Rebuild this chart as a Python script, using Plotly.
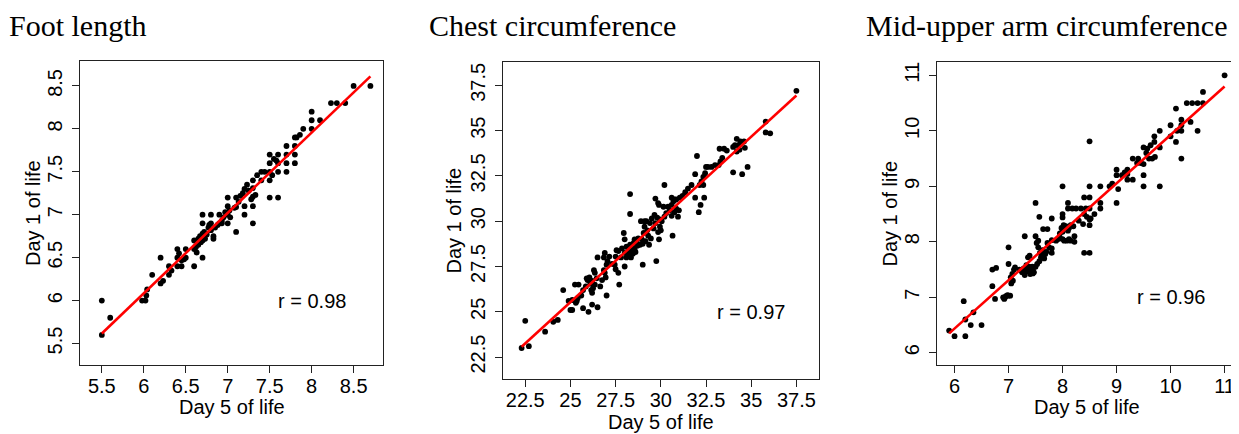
import numpy as np
import plotly.graph_objects as go

W, H = 1239, 434
OX, OY = 8, 8          # the page body offsets the figure by 8 px
FW, FH = W - OX, H - OY

# ---------------- data ----------------
panel_titles = ["Foot length", "Chest circumference", "Mid-upper arm circumference"]
x_title = "Day 5 of life"
y_title = "Day 1 of life"
r_labels = ["r = 0.98", "r = 0.97", "r = 0.96"]
r_label_pos = [(8.0, 6.0), (35.0, 25.0), (10.0, 7.0)]

foot_ticks = [5.5, 6, 6.5, 7, 7.5, 8, 8.5]
foot_ticklabels = ["5.5", "6", "6.5", "7", "7.5", "8", "8.5"]
chest_ticks = [22.5, 25, 27.5, 30, 32.5, 35, 37.5]
chest_ticklabels = ["22.5", "25", "27.5", "30", "32.5", "35", "37.5"]
muac_ticks = [6, 7, 8, 9, 10, 11]
muac_ticklabels = ["6", "7", "8", "9", "10", "11"]

foot_day5 = [
    5.5, 5.6, 5.5, 5.98, 6.02, 6.04, 6.03, 6.1, 6.2, 6.2,
    6.23, 6.3, 6.3, 6.33, 6.4, 6.42, 6.45, 6.4, 6.45, 6.4,
    6.5, 6.5, 6.48, 6.6, 6.6, 6.62, 6.65, 6.63, 6.6, 6.65,
    6.7, 6.7, 6.7, 6.67, 6.7, 6.72, 6.75, 6.73, 6.68, 6.7,
    6.8, 6.8, 6.77, 6.8, 6.83, 6.83, 6.78, 6.85, 6.9, 6.9,
    6.88, 6.93, 6.95, 6.97, 6.93, 7.0, 7.0, 7.0, 7.0, 7.02,
    7.03, 7.1, 7.1, 7.1, 7.13, 7.15, 7.08, 7.2, 7.2, 7.2,
    7.23, 7.18, 7.25, 7.3, 7.3, 7.3, 7.3, 7.3, 7.33, 7.28,
    7.35, 7.4, 7.4, 7.44, 7.5, 7.5, 7.5, 7.5, 7.5, 7.53,
    7.55, 7.6, 7.6, 7.6, 7.6, 7.58, 7.7, 7.7, 7.7, 7.7,
    7.8, 7.8, 7.8, 7.8, 7.82, 7.86, 7.9, 8.0, 8.0, 8.0,
    8.1, 8.23, 8.3, 8.4, 8.5, 8.7]
foot_day1 = [
    6.0, 5.8, 5.6, 6.0, 6.0, 6.13, 6.06, 6.3, 6.5, 6.2,
    6.23, 6.4, 6.3, 6.35, 6.6, 6.55, 6.47, 6.4, 6.4, 6.5,
    6.6, 6.5, 6.48, 6.4, 6.6, 6.62, 6.65, 6.56, 6.7, 6.72,
    6.5, 7.0, 6.9, 6.75, 6.78, 6.8, 6.77, 6.72, 6.68, 6.7,
    7.0, 6.9, 6.85, 6.82, 6.75, 6.72, 6.88, 6.85, 7.0, 6.9,
    6.88, 6.93, 6.97, 7.03, 6.9, 7.2, 7.1, 7.0, 6.9, 7.05,
    6.97, 7.2, 7.09, 6.8, 7.15, 7.22, 7.08, 7.3, 7.1, 7.0,
    7.35, 7.25, 7.28, 7.4, 7.31, 7.21, 7.1, 6.9, 7.23, 7.18,
    7.46, 7.4, 7.5, 7.5, 7.7, 7.6, 7.5, 7.4, 7.2, 7.46,
    7.65, 7.7, 7.6, 7.5, 7.2, 7.63, 7.8, 7.7, 7.6, 7.5,
    7.9, 7.8, 7.7, 7.6, 7.9, 7.93, 8.0, 8.2, 8.1, 8.0,
    8.1, 8.3, 8.3, 8.3, 8.5, 8.5]

chest_day5 = [
    22.3, 22.5, 22.7, 23.6, 24.05, 24.3, 24.6, 24.9, 25.0, 25.1,
    25.3, 25.35, 25.4, 25.1, 25.25, 25.45, 25.6, 25.7, 25.85, 25.95,
    25.7, 26.0, 26.2, 26.5, 25.9, 26.05, 26.1, 26.2, 26.25, 26.35,
    26.45, 26.35, 26.3, 26.15, 26.2, 26.5, 26.65, 26.75, 26.9, 27.0,
    26.85, 26.95, 27.0, 26.85, 26.9, 27.05, 27.15, 27.3, 27.45, 27.5,
    27.55, 27.65, 27.8, 27.5, 27.65, 27.7, 28.0, 27.95, 28.0, 28.3,
    28.3, 28.1, 28.3, 28.5, 28.55, 28.65, 28.75, 28.2, 28.4, 28.55,
    28.25, 28.0, 27.85, 28.45, 28.7, 28.85, 28.1, 28.35, 28.6, 29.0,
    28.95, 29.05, 29.1, 29.2, 29.25, 29.4, 29.5, 29.65, 28.9, 29.1,
    29.0, 29.15, 29.3, 29.45, 29.35, 29.75, 29.7, 29.85, 29.9, 29.95,
    30.05, 30.2, 30.3, 30.5, 30.6, 30.75, 29.6, 29.7, 29.8, 29.95,
    30.0, 29.85, 30.2, 30.65, 30.6, 30.75, 30.85, 31.0, 30.95, 30.4,
    30.15, 29.9, 31.05, 31.2, 31.35, 31.5, 31.7, 30.6, 30.7, 30.85,
    31.9, 31.9, 32.4, 32.2, 32.1, 32.0, 32.15, 32.35, 32.25, 32.35,
    32.45, 32.5, 32.6, 32.8, 33.0, 33.2, 33.3, 33.4, 33.25, 33.5,
    33.65, 34.0, 34.5, 34.8, 34.2, 34.1, 34.3, 34.4, 34.6, 34.65,
    34.35, 34.2, 34.0, 35.8, 35.8, 36.05, 37.5]
chest_day1 = [
    23.0, 24.5, 23.1, 23.9, 24.45, 24.55, 26.2, 25.6, 25.1, 25.1,
    25.5, 25.6, 25.75, 25.65, 26.5, 26.5, 25.9, 26.2, 26.4, 26.75,
    25.2, 25.0, 25.4, 25.25, 26.85, 26.9, 26.55, 26.7, 26.3, 26.5,
    26.85, 27.15, 27.3, 26.2, 26.05, 28.0, 26.4, 26.75, 27.15, 27.6,
    27.3, 26.9, 25.9, 28.0, 28.25, 27.8, 28.05, 27.65, 27.6, 28.05,
    28.4, 28.35, 28.0, 27.35, 27.15, 26.5, 27.5, 29.35, 29.0, 31.5,
    30.4, 28.6, 28.7, 28.8, 29.0, 28.9, 29.05, 28.4, 28.4, 28.5,
    28.15, 28.25, 28.5, 28.2, 28.65, 28.7, 28.0, 28.0, 28.3, 27.6,
    29.0, 29.35, 29.7, 30.0, 29.5, 29.9, 30.15, 30.35, 30.0, 30.0,
    28.75, 28.9, 29.2, 29.05, 28.7, 27.8, 31.25, 31.0, 29.0, 29.7,
    30.0, 30.25, 30.45, 30.6, 30.9, 31.2, 29.6, 29.9, 30.2, 30.1,
    29.5, 29.4, 32.0, 29.2, 30.3, 30.5, 30.7, 30.6, 30.25, 30.8,
    30.8, 30.9, 31.3, 31.4, 31.6, 31.8, 32.0, 31.3, 31.1, 31.2,
    32.6, 31.3, 31.3, 30.9, 30.5, 33.6, 32.0, 32.0, 32.2, 32.45,
    32.65, 33.0, 33.0, 33.0, 33.1, 33.1, 33.3, 33.5, 34.0, 34.0,
    33.9, 32.7, 32.6, 33.0, 34.55, 34.2, 34.2, 34.4, 34.4, 34.05,
    33.95, 33.85, 34.1, 35.5, 34.9, 34.85, 37.2]

muac_day5 = [
    5.9, 6.0, 6.17, 6.2, 6.2, 6.3, 6.35, 6.5, 6.7, 6.7,
    6.77, 6.75, 6.9, 6.92, 6.95, 6.98, 7.0, 7.03, 6.93, 7.0,
    7.0, 7.04, 7.07, 7.1, 7.12, 7.05, 7.08, 7.2, 7.25, 7.3,
    7.3, 7.35, 7.4, 7.42, 7.45, 7.44, 7.47, 7.38, 7.33, 7.28,
    7.45, 7.3, 7.36, 7.39, 7.5, 7.5, 7.57, 7.52, 7.55, 7.58,
    7.6, 7.57, 7.62, 7.66, 7.63, 7.53, 7.5, 7.55, 7.64, 7.72,
    7.8, 7.8, 7.8, 7.8, 7.72, 7.75, 7.7, 7.68, 7.88, 7.92,
    7.95, 8.0, 8.03, 8.08, 8.12, 8.15, 7.98, 8.02, 8.0, 7.95,
    8.0, 8.0, 8.0, 8.1, 8.1, 8.18, 8.12, 8.15, 8.2, 8.1,
    8.06, 8.22, 8.22, 8.25, 8.3, 8.34, 8.4, 8.43, 8.4, 8.38,
    8.45, 8.5, 8.52, 8.4, 8.5, 8.5, 8.5, 8.5, 8.5, 8.5,
    8.59, 8.7, 8.7, 8.7, 8.87, 8.92, 9.0, 9.0, 9.0, 9.03,
    9.1, 9.15, 9.2, 9.2, 9.3, 9.2, 9.3, 9.4, 9.38, 9.45,
    9.5, 9.5, 9.5, 9.5, 9.55, 9.6, 9.66, 9.71, 9.57, 9.63,
    9.7, 9.7, 9.8, 9.8, 9.8, 10.0, 10.0, 10.1, 10.1, 10.12,
    10.2, 10.2, 10.2, 10.2, 10.3, 10.4, 10.5, 10.6, 10.37, 10.5,
    10.6, 11.0]
muac_day1 = [
    6.4, 6.3, 6.93, 6.6, 6.3, 6.5, 6.73, 6.5, 7.2, 7.5,
    7.53, 6.97, 7.0, 6.97, 7.02, 7.04, 7.03, 7.03, 6.99, 7.9,
    7.6, 7.36, 7.42, 7.5, 7.54, 7.25, 7.3, 7.5, 7.45, 7.4,
    7.5, 7.47, 7.42, 7.48, 7.5, 7.55, 7.45, 7.55, 7.58, 7.52,
    7.43, 8.1, 7.72, 7.75, 8.7, 8.1, 8.45, 7.98, 7.9, 7.8,
    7.72, 7.65, 7.76, 7.7, 7.85, 7.6, 7.55, 8.02, 8.23, 8.23,
    8.42, 8.03, 7.88, 7.8, 7.98, 7.9, 7.82, 7.78, 8.02, 8.05,
    8.15, 8.05, 8.02, 8.02, 8.05, 8.02, 8.25, 8.3, 8.18, 8.07,
    9.0, 8.5, 8.44, 8.7, 8.6, 8.6, 8.25, 8.3, 8.28, 8.2,
    8.28, 8.0, 8.1, 8.6, 8.38, 8.6, 8.8, 8.6, 8.5, 8.32,
    8.45, 8.3, 8.42, 7.8, 7.8, 9.0, 8.8, 9.81, 8.6, 8.4,
    8.5, 9.0, 8.7, 8.6, 9.0, 9.05, 9.3, 9.2, 8.7, 8.95,
    9.2, 9.25, 9.3, 9.12, 9.12, 9.22, 9.5, 9.5, 9.42, 9.42,
    9.7, 9.4, 9.2, 9.0, 9.6, 9.5, 9.5, 9.53, 9.68, 9.74,
    9.9, 9.8, 10.0, 9.7, 9.0, 10.1, 9.9, 10.4, 9.8, 10.0,
    10.0, 10.1, 10.2, 9.5, 10.5, 10.5, 10.5, 10.5, 10.16, 10.0,
    10.7, 11.0]

# ---------------- layout geometry (page pixels) ----------------
panels = [
    dict(x=foot_day5, y=foot_day1, ticks=foot_ticks, labels=foot_ticklabels,
         xr=[5.24, 8.85], yr=[5.25, 8.79], box=(80, 383, 61, 365),
         title_x=8, xt_y=407, yt_x=33),
    dict(x=chest_day5, y=chest_day1, ticks=chest_ticks, labels=chest_ticklabels,
         xr=[21.27, 38.75], yr=[21.29, 38.79], box=(503, 819, 62, 379),
         title_x=428, xt_y=422, yt_x=453),
    dict(x=muac_day5, y=muac_day1, ticks=muac_ticks, labels=muac_ticklabels,
         xr=[5.675, 11.23], yr=[5.78, 11.24], box=(937, 1237, 62, 365),
         title_x=865, xt_y=407, yt_x=889),
]


def fx(px):
    return (px - OX) / FW


def fy(py):
    return 1 - (py - OY) / FH


SANS = "Liberation Sans, Arial, sans-serif"
SERIF = "Liberation Serif, Times New Roman, serif"
FS = 20

fig = go.Figure()
annotations = []
layout_axes = {}

for i, p in enumerate(panels):
    n = i + 1
    xa = "x" if n == 1 else f"x{n}"
    ya = "y" if n == 1 else f"y{n}"
    x = np.array(p["x"])
    y = np.array(p["y"])
    fig.add_trace(go.Scatter(
        x=x, y=y, mode="markers", xaxis=xa, yaxis=ya,
        marker=dict(size=5.8, color="black", line=dict(width=0)),
        showlegend=False, hoverinfo="skip"))
    slope, intercept = np.polyfit(x, y, 1)
    lx = np.array([x.min(), x.max()])
    fig.add_trace(go.Scatter(
        x=lx, y=intercept + slope * lx, mode="lines", xaxis=xa, yaxis=ya,
        line=dict(color="#ff0000", width=2.6), showlegend=False, hoverinfo="skip"))

    l, r, t, b = p["box"]
    common = dict(showline=True, mirror=True, linecolor="#222", linewidth=1.3,
                  ticks="outside", ticklen=7, tickwidth=1.2, tickcolor="#222",
                  showgrid=False, zeroline=False,
                  tickfont=dict(family=SANS, size=FS, color="black"),
                  tickmode="array", tickvals=p["ticks"], ticktext=p["labels"])
    layout_axes["xaxis" if n == 1 else f"xaxis{n}"] = dict(
        common, domain=[fx(l), fx(r)], range=p["xr"], anchor=ya, ticklabelstandoff=-4)
    layout_axes["yaxis" if n == 1 else f"yaxis{n}"] = dict(
        common, domain=[fy(b), fy(t)], range=p["yr"], anchor=xa,
        tickangle=-90, ticklabelstandoff=2)

    annotations.append(dict(text=panel_titles[i], xref="paper", yref="paper",
                            x=fx(p["title_x"]), y=fy(8), xanchor="left", yanchor="top",
                            showarrow=False, borderpad=0,
                            font=dict(family=SERIF, size=30, color="black")))
    annotations.append(dict(text=x_title, xref="paper", yref="paper",
                            x=fx((l + r) / 2), y=fy(p["xt_y"]), xanchor="center", yanchor="middle",
                            showarrow=False, font=dict(family=SANS, size=FS, color="black")))
    annotations.append(dict(text=y_title, xref="paper", yref="paper",
                            x=fx(p["yt_x"]), y=fy((t + b) / 2), xanchor="center", yanchor="middle",
                            textangle=-90, showarrow=False,
                            font=dict(family=SANS, size=FS, color="black")))
    rx, ry = r_label_pos[i]
    annotations.append(dict(text=r_labels[i], xref=xa, yref=ya, x=rx, y=ry,
                            xanchor="center", yanchor="middle", showarrow=False,
                            font=dict(family=SANS, size=FS, color="black")))

fig.update_layout(
    width=FW, height=FH, margin=dict(l=0, r=0, t=0, b=0),
    paper_bgcolor="white", plot_bgcolor="white",
    annotations=annotations, **layout_axes)

fig.write_html("out.html")
